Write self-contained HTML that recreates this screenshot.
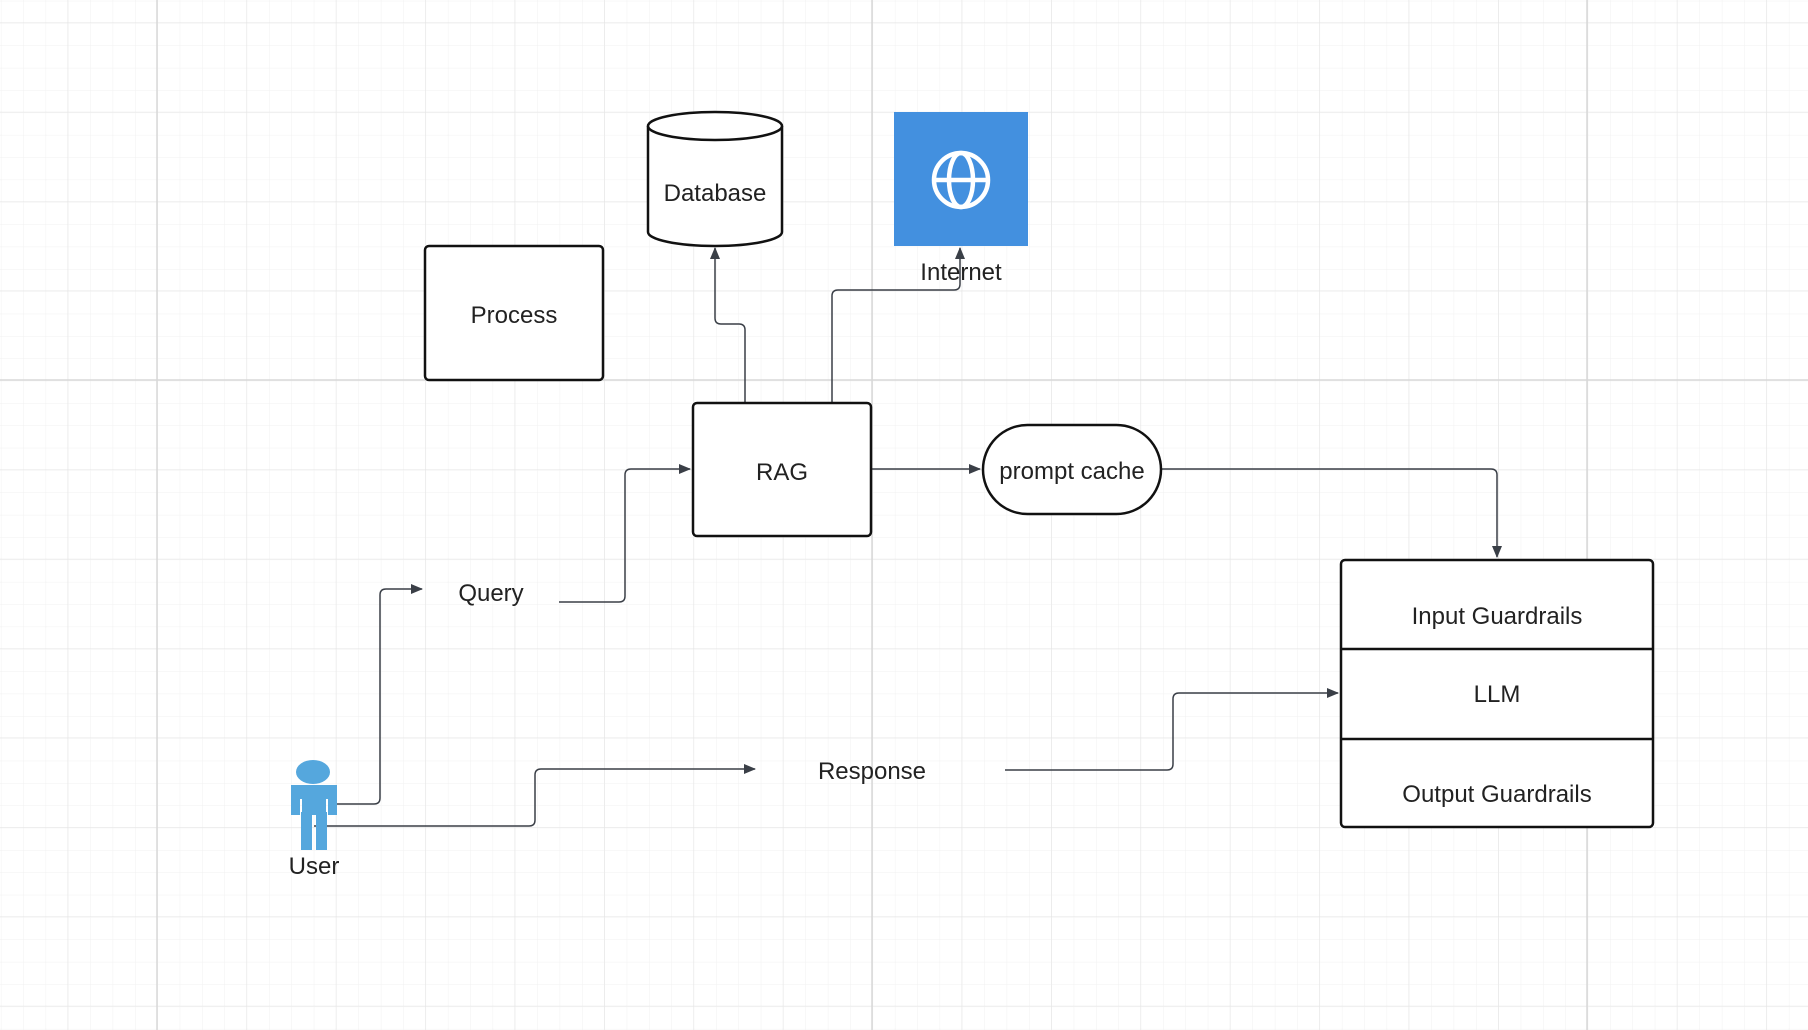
<!DOCTYPE html>
<html><head><meta charset="utf-8"><style>
html,body{margin:0;padding:0;background:#fff;}
svg{display:block;}
text{font-family:"Liberation Sans",sans-serif;font-size:24px;fill:#222;}
</style></head><body>
<svg width="1808" height="1030" viewBox="0 0 1808 1030" xmlns="http://www.w3.org/2000/svg">
<defs>
<pattern id="minor" width="22.35" height="22.35" patternUnits="userSpaceOnUse" x="0.9" y="0.8">
<path d="M0 0H22.35M0 0V22.35" stroke="#f1f1f1" stroke-width="1" fill="none"/>
</pattern>
<pattern id="med" width="89.4" height="89.4" patternUnits="userSpaceOnUse" x="67.6" y="22.4">
<path d="M0 0H89.4M0 0V89.4" stroke="#e4e4e4" stroke-width="1" fill="none"/>
</pattern>
<marker id="a" markerWidth="12" markerHeight="10" refX="11" refY="5" orient="auto" markerUnits="userSpaceOnUse">
<path d="M0 0L12 5L0 10Z" fill="#3a3f47"/>
</marker>
</defs>
<rect width="1808" height="1030" fill="url(#minor)"/>
<rect width="1808" height="1030" fill="url(#med)"/>
<path d="M157 0V1030M872 0V1030M1587 0V1030M0 380H1808" stroke="#d8d8d8" stroke-width="1.5"/>

<g fill="none" stroke="#3a3f47" stroke-width="1.5">
<path d="M745 402V330Q745 324 739 324H721Q715 324 715 318V248" marker-end="url(#a)"/>
<path d="M832 402V296Q832 290 838 290H954Q960 290 960 284V248" marker-end="url(#a)"/>
<path d="M872 469H980" marker-end="url(#a)"/>
<path d="M1161 469H1491Q1497 469 1497 475V557" marker-end="url(#a)"/>
<path d="M559 602H619Q625 602 625 596V475Q625 469 631 469H690" marker-end="url(#a)"/>
<path d="M337 804H374Q380 804 380 798V595Q380 589 386 589H422" marker-end="url(#a)"/>
<path d="M314 826H529Q535 826 535 820V775Q535 769 541 769H755" marker-end="url(#a)"/>
<path d="M1005 770H1167Q1173 770 1173 764V699Q1173 693 1179 693H1338" marker-end="url(#a)"/>
</g>

<path d="M648 126V232A67 14 0 0 0 782 232V126" fill="#fff" stroke="#111" stroke-width="2.5"/>
<ellipse cx="715" cy="126" rx="67" ry="14" fill="#fff" stroke="#111" stroke-width="2.5"/>
<text x="715" y="201" text-anchor="middle">Database</text>

<rect x="894" y="112" width="134" height="134" fill="#4390df"/>
<g fill="none" stroke="#fff" stroke-width="4.5">
<circle cx="961" cy="180" r="27"/>
<ellipse cx="961" cy="180" rx="12" ry="27"/>
<path d="M934 180H988"/>
</g>
<text x="961" y="280" text-anchor="middle">Internet</text>

<rect x="425" y="246" width="178" height="134" rx="4" fill="#fff" stroke="#111" stroke-width="2.5"/>
<text x="514" y="323" text-anchor="middle">Process</text>

<rect x="693" y="403" width="178" height="133" rx="4" fill="#fff" stroke="#111" stroke-width="2.5"/>
<text x="782" y="480" text-anchor="middle">RAG</text>

<rect x="983" y="425" width="178" height="89" rx="44.5" fill="#fff" stroke="#111" stroke-width="2.5"/>
<text x="1072" y="479" text-anchor="middle">prompt cache</text>

<rect x="1341" y="560" width="312" height="267" rx="4" fill="#fff" stroke="#111" stroke-width="2.5"/>
<path d="M1341 649H1653M1341 739H1653" stroke="#111" stroke-width="2.5"/>
<text x="1497" y="624" text-anchor="middle">Input Guardrails</text>
<text x="1497" y="702" text-anchor="middle">LLM</text>
<text x="1497" y="802" text-anchor="middle">Output Guardrails</text>

<text x="491" y="601" text-anchor="middle">Query</text>
<text x="872" y="779" text-anchor="middle">Response</text>

<g fill="#55a7dd">
<ellipse cx="313" cy="772" rx="17" ry="12"/>
<rect x="291" y="785" width="46" height="14" rx="2"/>
<rect x="291" y="785" width="9" height="30"/>
<rect x="328" y="785" width="9" height="30"/>
<rect x="302" y="785" width="24" height="30"/>
<rect x="301" y="812" width="11" height="38"/>
<rect x="316" y="812" width="11" height="38"/>
</g>
<text x="314" y="874" text-anchor="middle">User</text>
</svg>
</body></html>
